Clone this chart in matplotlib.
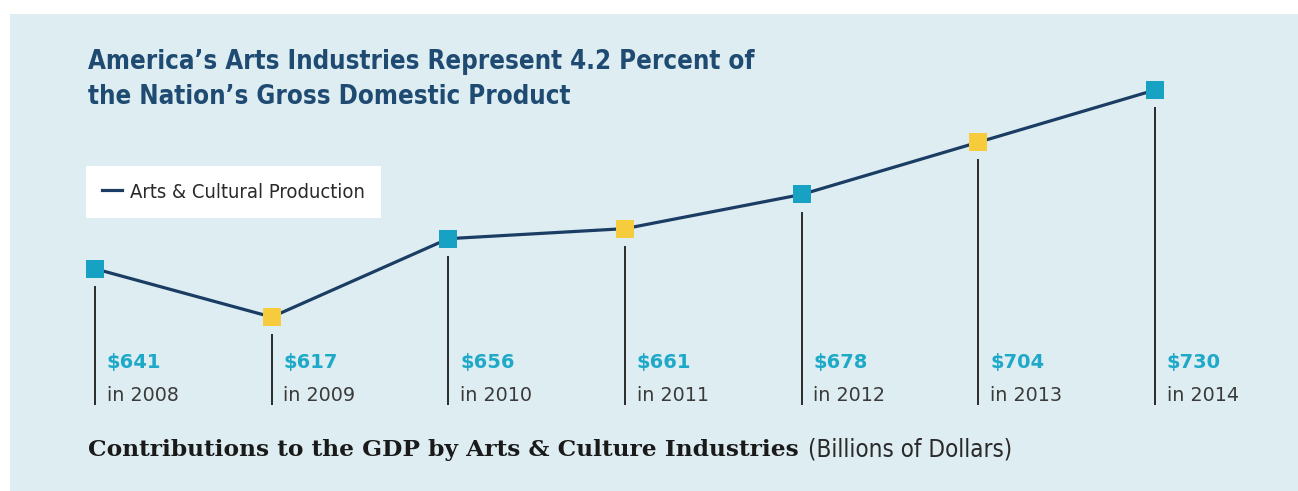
import matplotlib.pyplot as plt
from matplotlib.patches import Rectangle
from matplotlib.lines import Line2D

# data
years = [2008, 2009, 2010, 2011, 2012, 2013, 2014]
values = [641, 617, 656, 661, 678, 704, 730]
marker_colors = ['#17a2c4', '#f6cb3c', '#17a2c4', '#f6cb3c', '#17a2c4', '#f6cb3c', '#17a2c4']

bg = '#ddedf2'
navy = '#1b3d63'
teal = '#1fa9c8'

fig = plt.figure(figsize=(12.98, 4.91), dpi=100)
fig.patch.set_facecolor('white')
# light blue panel
fig.patches.append(Rectangle((10 / 1298, 0), 1 - 10 / 1298, 1 - 14 / 491,
                             transform=fig.transFigure, facecolor=bg, edgecolor='none', zorder=-1))

ax = fig.add_axes([0, 0, 1, 1])
ax.set_zorder(2)
ax.set_facecolor('none')
ax.set_xlim(2007.4623, 2014.8094)
ax.set_ylim(530.4, 774.8)
ax.axis('off')

# drop lines below each point
ax.vlines(years, 573.2, [v - 8.5 for v in values], color='#2a2a2a', linewidth=1.4, zorder=1)

# main line + square markers
ax.plot(years, values, color=navy, linewidth=2.3, zorder=2, label='Arts & Cultural Production')
for x, y, c in zip(years, values, marker_colors):
    ax.plot(x, y, marker='s', markersize=12.5, color=c, markeredgewidth=0, zorder=3)

# value labels
for x, v in zip(years, values):
    ax.annotate(f'${v}', xy=(x, 594.6), xytext=(8.5, 0), textcoords='offset points',
                ha='left', va='center', fontsize=14, fontweight='bold', color=teal)
    ax.annotate(f'in {x}', xy=(x, 578), xytext=(8.5, 0), textcoords='offset points',
                ha='left', va='center', fontsize=13.8, color='#3a3a3a')

cond = {'family': 'DejaVu Sans', 'stretch': 'condensed'}

# legend
handle = Line2D([], [], color=navy, linewidth=2.3)
leg = ax.legend([handle], ['Arts & Cultural Production'], loc='center left',
                bbox_to_anchor=(86 / 1298, 1 - 192 / 491), bbox_transform=fig.transFigure,
                frameon=True, fancybox=False, framealpha=1, facecolor='white', edgecolor='none',
                handlelength=1.0, handletextpad=0.4, borderpad=0.8, borderaxespad=0,
                labelcolor='#2a2a2a',
                prop={'family': 'DejaVu Sans', 'stretch': 'condensed', 'size': 14.5})

# title
fig.text(88 / 1298, 1 - 62 / 491, "America\u2019s Arts Industries Represent 4.2 Percent of",
         fontweight='bold', fontsize=18.5, color='#1f4b72', va='center', ha='left', **cond)
fig.text(88 / 1298, 1 - 97 / 491, "the Nation\u2019s Gross Domestic Product",
         fontweight='bold', fontsize=18.5, color='#1f4b72', va='center', ha='left', **cond)

# caption
cap = fig.text(88 / 1298, 1 - 450 / 491, 'Contributions to the GDP by Arts & Culture Industries',
               family='DejaVu Serif', fontweight='bold', fontsize=16.8, color='#1a1a1a',
               va='center', ha='left')
fig.canvas.draw()
bb = cap.get_window_extent()
fig.text((bb.x1 + 9) / 1298, 1 - 450 / 491, '(Billions of Dollars)',
         fontsize=17.4, color='#2a2a2a', va='center', ha='left', **cond)

fig.savefig('out.png', dpi=100, facecolor=fig.get_facecolor())
